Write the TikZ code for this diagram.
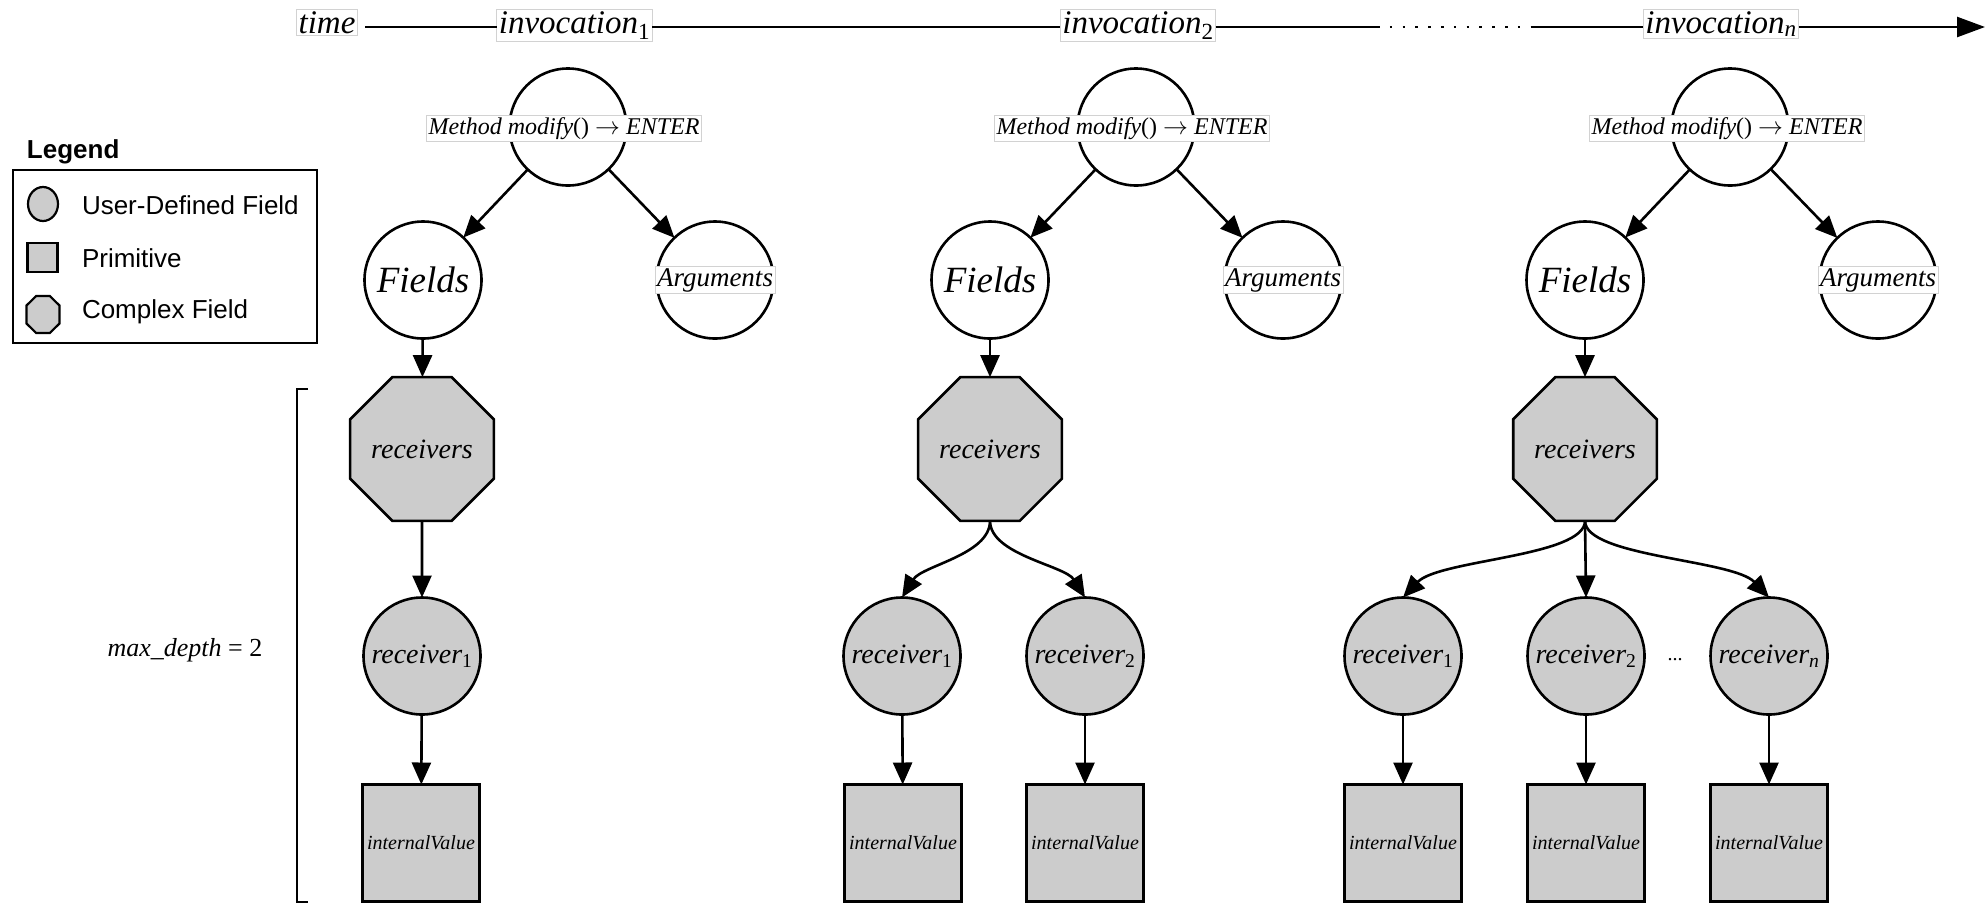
\documentclass[tikz,border=0pt]{standalone}
\usepackage{fontspec}
\setmainfont{Liberation Serif}
\newfontfamily\legendfont{Liberation Sans}
\usetikzlibrary{arrows.meta,shapes.geometric,calc}
\definecolor{nodefill}{HTML}{CCCCCC}
\definecolor{labelframe}{HTML}{D2D2D2}

\begin{document}
\begin{tikzpicture}[x=1pt,y=-1pt,
  every node/.style={inner sep=0pt, outer sep=0pt},
  conn/.style={line width=2.6pt, -{Triangle[length=22pt,width=19pt]}},
  plain/.style={circle, draw, line width=2.6pt, minimum size=117pt, fill=white},
  udf/.style={circle, draw, line width=2.6pt, minimum size=117pt, fill=nodefill},
  cplx/.style={regular polygon, regular polygon sides=8, draw, line width=2.6pt,
               minimum size=127pt, fill=nodefill},
  prim/.style={rectangle, draw, line width=2.6pt, minimum size=117pt, fill=nodefill},
  lblbox/.style={draw=labelframe, line width=0.8pt, fill=white, inner sep=2pt},
  tltext/.style={lblbox, anchor=base, font=\fontsize{33}{36}\selectfont\itshape},
  methodtext/.style={lblbox, font=\fontsize{24}{26}\selectfont\itshape},
  argtext/.style={lblbox, font=\fontsize{27}{30}\selectfont\itshape},
  fieldstext/.style={font=\fontsize{37}{40}\selectfont\itshape},
  rcvtext/.style={font=\fontsize{28}{30}\selectfont\itshape},
  ivtext/.style={font=\fontsize{20}{22}\selectfont\itshape},
  legtext/.style={anchor=base west, font=\legendfont\fontsize{26}{30}\selectfont},
  timeline/.style={line width=2.5pt},
]
\useasboundingbox (0,0) rectangle (1985,903);

% ---------- time axis ----------
\coordinate (tl) at (0,27);
\node[tltext] (time) at (327,33) {time};
\node[tltext] (inv1) at (574.5,33) {invocation\textsubscript{\upshape 1}};
\node[tltext] (inv2) at (1138,33) {invocation\textsubscript{\upshape 2}};
\node[tltext] (invn) at (1721,33) {invocation\textsubscript{n}};
\coordinate (gap1) at (1377,27);
\coordinate (gap2) at (1531,27);
\coordinate (tend) at (1985,27);
\draw[timeline] ($(time.east |- tl)+(8,0)$) -- (inv1.west |- tl);
\draw[timeline] (inv1.east |- tl) -- (inv2.west |- tl);
\draw[timeline] (inv2.east |- tl) -- (gap1);
\draw[line width=2.5pt, dash pattern=on 2.5pt off 10.3pt] (gap1) -- (gap2);
\draw[timeline] (gap2) -- (invn.west |- tl);
\draw[timeline, -{Triangle[length=28pt,width=20pt]}] (invn.east |- tl) -- (tend);

% ---------- legend ----------
\node[anchor=base west, font=\legendfont\fontsize{26}{30}\selectfont\bfseries] (legtitle) at (27,158) {Legend};
\draw[line width=2.5pt] (13,170) rectangle (317,343);
\node[ellipse, draw, line width=2.2pt, fill=nodefill, minimum width=30pt, minimum height=34pt] (legudf) at (43,204) {};
\node[rectangle, draw, line width=2.5pt, fill=nodefill, minimum width=30pt, minimum height=29pt] (legprim) at (42.5,257.5) {};
\draw[line width=2.2pt, fill=nodefill] (26.5,305.5) -- (36.2,296) -- (49.8,296) -- (59.5,305.5)
  -- (59.5,323.5) -- (49.8,333) -- (36.2,333) -- (26.5,323.5) -- cycle;
\node[legtext] at (82,214) {User-Defined Field};
\node[legtext] at (82,267) {Primitive};
\node[legtext] at (82,318) {Complex Field};

% ---------- depth bracket ----------
\draw[line width=2.5pt] (308,389) -- (297,389) -- (297,902) -- (308,902);
\node[font=\fontsize{26}{28}\selectfont] (depth) at (185,650) {{\itshape max\_depth} = 2};

% ---------- invocation 1 ----------
\node[plain] (a-m) at (568,127) {};
\node[methodtext] (a-ml) at (564,128.5) {Method modify{\upshape ()} $\rightarrow$ ENTER};
\node[plain, fieldstext] (a-f) at (423,280) {Fields};
\node[plain] (a-a) at (715,280) {};
\node[argtext] (a-al) at (715,280) {Arguments};
\node[cplx, rcvtext] (a-rs) at (422,449) {receivers};
\node[udf, rcvtext] (a-r1) at (422,656) {receiver\textsubscript{\upshape 1}};
\node[prim, ivtext] (a-v1) at (421,843) {internalValue};
\draw[conn] (a-m) -- (a-f);
\draw[conn] (a-m) -- (a-a);
\draw[conn] (a-f) -- (a-rs);
\draw[conn] (a-rs.south) -- (a-r1.north);
\draw[conn] (a-r1) -- (a-v1);

% ---------- invocation 2 ----------
\node[plain] (b-m) at (1136,127) {};
\node[methodtext] (b-ml) at (1132,128.5) {Method modify{\upshape ()} $\rightarrow$ ENTER};
\node[plain, fieldstext] (b-f) at (990,280) {Fields};
\node[plain] (b-a) at (1283,280) {};
\node[argtext] (b-al) at (1283,280) {Arguments};
\node[cplx, rcvtext] (b-rs) at (990,449) {receivers};
\node[udf, rcvtext] (b-r1) at (902,656) {receiver\textsubscript{\upshape 1}};
\node[udf, rcvtext] (b-r2) at (1085,656) {receiver\textsubscript{\upshape 2}};
\node[prim, ivtext] (b-v1) at (903,843) {internalValue};
\node[prim, ivtext] (b-v2) at (1085,843) {internalValue};
\draw[conn] (b-m) -- (b-f);
\draw[conn] (b-m) -- (b-a);
\draw[conn] (b-f) -- (b-rs);
\draw[conn] (b-rs.south) .. controls +(0,34) and +(20,-32) .. (b-r1.north);
\draw[conn] (b-rs.south) .. controls +(0,34) and +(-20,-32) .. (b-r2.north);
\draw[conn] (b-r1) -- (b-v1);
\draw[conn] (b-r2) -- (b-v2);

% ---------- invocation n ----------
\node[plain] (c-m) at (1730,127) {};
\node[methodtext] (c-ml) at (1727,128.5) {Method modify{\upshape ()} $\rightarrow$ ENTER};
\node[plain, fieldstext] (c-f) at (1585,280) {Fields};
\node[plain] (c-a) at (1878,280) {};
\node[argtext] (c-al) at (1878,280) {Arguments};
\node[cplx, rcvtext] (c-rs) at (1585,449) {receivers};
\node[udf, rcvtext] (c-r1) at (1403,656) {receiver\textsubscript{\upshape 1}};
\node[udf, rcvtext] (c-r2) at (1586,656) {receiver\textsubscript{\upshape 2}};
\node[udf, rcvtext] (c-rn) at (1769,656) {receiver\textsubscript{n}};
\node[font=\fontsize{20}{22}\selectfont] (c-dots) at (1675,660) {...};
\node[prim, ivtext] (c-v1) at (1403,843) {internalValue};
\node[prim, ivtext] (c-v2) at (1586,843) {internalValue};
\node[prim, ivtext] (c-vn) at (1769,843) {internalValue};
\draw[conn] (c-m) -- (c-f);
\draw[conn] (c-m) -- (c-a);
\draw[conn] (c-f) -- (c-rs);
\draw[conn] (c-rs.south) .. controls +(0,36) and +(36,-38) .. (c-r1.north);
\draw[conn] (c-rs.south) -- (c-r2.north);
\draw[conn] (c-rs.south) .. controls +(0,36) and +(-36,-38) .. (c-rn.north);
\draw[conn] (c-r1) -- (c-v1);
\draw[conn] (c-r2) -- (c-v2);
\draw[conn] (c-rn) -- (c-vn);
\end{tikzpicture}
\end{document}
